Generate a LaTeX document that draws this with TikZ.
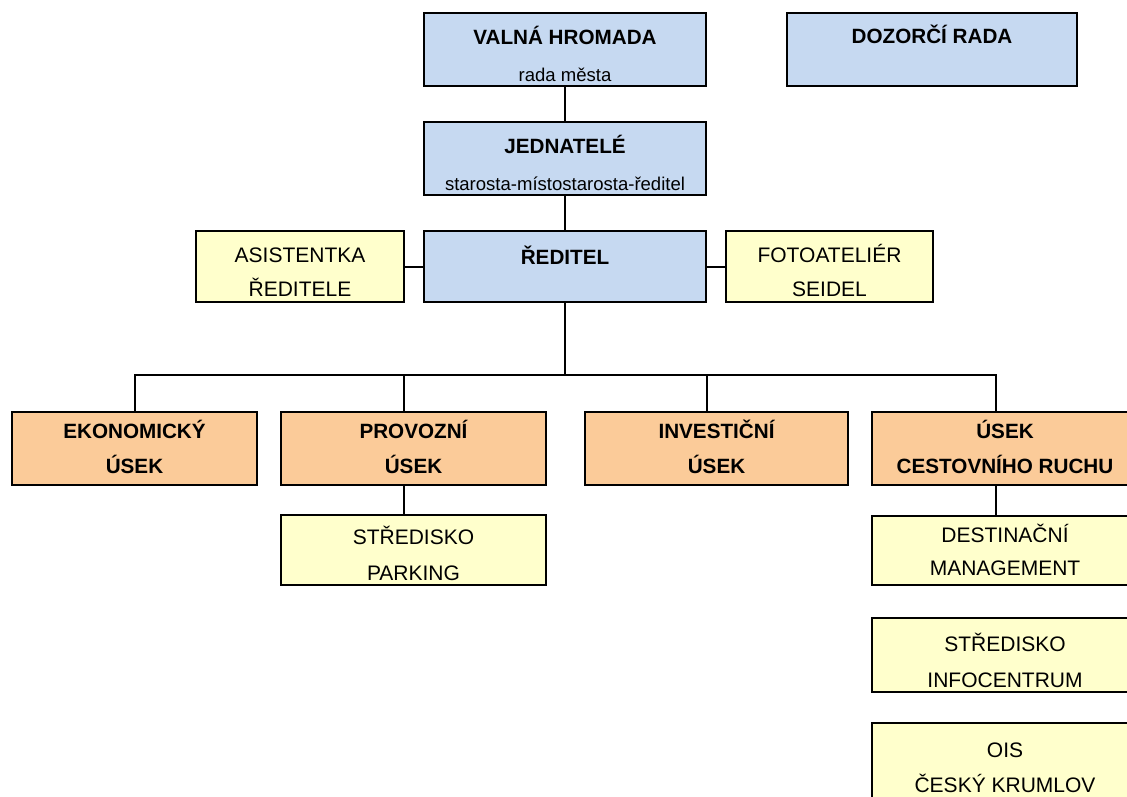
\documentclass[tikz,border=0pt]{standalone}
\usepackage{fontspec}
\setmainfont{Liberation Sans}
\definecolor{boardblue}{RGB}{198,217,241}
\definecolor{unitorange}{RGB}{251,203,153}
\definecolor{staffyellow}{RGB}{255,255,204}

\begin{document}
\begin{tikzpicture}[x=0.75pt,y=-0.75pt,inner sep=0pt,outer sep=0pt,
box/.style={draw,rectangle,line width=2pt},
blue box/.style={box,fill=boardblue,minimum width=211.5pt,minimum height=54.75pt},
orange box/.style={box,fill=unitorange,minimum height=54.75pt},
yellow box/.style={box,fill=staffyellow,minimum height=53.25pt},
hd/.style={font=\fontsize{15.5}{18}\selectfont\bfseries,anchor=base},
txt/.style={font=\fontsize{15.75}{18}\selectfont,anchor=base},
sub/.style={font=\fontsize{13.9}{16}\selectfont,anchor=base},
link/.style={line width=1.5pt}]

\useasboundingbox (0,0) rectangle (1127,796);
\clip (0,0) rectangle (1127,796);

% top of the chart
\node[blue box] (valna) at (565,49.5) {};
\node[blue box,minimum width=217.5pt] (dozor) at (932,49.5) {};
\node[blue box] (jedn) at (565,158.5) {};
\node[blue box,minimum height=53.25pt] (redi) at (565,266.5) {};
\node[yellow box,minimum width=156pt] (asist) at (300,266.5) {};
\node[yellow box,minimum width=155.25pt] (foto) at (829.5,266.5) {};

\node[hd] (valnaA) at ([yshift=-23.25pt]valna.north) {VALNÁ HROMADA};
\node[sub] (valnaB) at ([yshift=3.5pt]valna.south) {rada města};
\node[hd] (dozorA) at ([yshift=-23pt]dozor.north) {DOZORČÍ RADA};
\node[hd] (jednA) at ([yshift=-23.25pt]jedn.north) {JEDNATELÉ};
\node[sub] (jednB) at ([yshift=3.5pt]jedn.south) {starosta-místostarosta-ředitel};
\node[hd] (rediA) at ([yshift=-25pt]redi.north) {ŘEDITEL};
\node[txt] (asistA) at ([yshift=-23.5pt]asist.north) {ASISTENTKA};
\node[txt] (asistB) at ([yshift=-49.25pt]asist.north) {ŘEDITELE};
\node[txt] (fotoA) at ([yshift=-23.5pt]foto.north) {FOTOATELIÉR};
\node[txt] (fotoB) at ([yshift=-49.25pt]foto.north) {SEIDEL};

% departments
\node[orange box,minimum width=183.75pt] (ekon) at (134.5,448.5) {};
\node[orange box,minimum width=198.75pt] (prov) at (413.5,448.5) {};
\node[orange box,minimum width=197.25pt] (inv) at (716.5,448.5) {};
\node[orange box,minimum width=199.5pt] (usek) at (1005,448.5) {};

\node[hd] (ekonA) at ([yshift=-19.5pt]ekon.north) {EKONOMICKÝ};
\node[hd] (ekonB) at ([yshift=-45.75pt]ekon.north) {ÚSEK};
\node[hd] (provA) at ([yshift=-19.5pt]prov.north) {PROVOZNÍ};
\node[hd] (provB) at ([yshift=-45.75pt]prov.north) {ÚSEK};
\node[hd] (invA) at ([yshift=-19.5pt]inv.north) {INVESTIČNÍ};
\node[hd] (invB) at ([yshift=-45.75pt]inv.north) {ÚSEK};
\node[hd] (usekA) at ([yshift=-19.5pt]usek.north) {ÚSEK};
\node[hd] (usekB) at ([yshift=-45.75pt]usek.north) {CESTOVNÍHO RUCHU};

% sections below
\node[yellow box,minimum width=198.75pt,minimum height=52.5pt] (park) at (413.5,550) {};
\node[yellow box,minimum width=199.5pt,minimum height=51.75pt] (dest) at (1005,550.5) {};
\node[yellow box,minimum width=199.5pt,minimum height=55.5pt] (info) at (1005,655) {};
\node[yellow box,minimum width=199.5pt,minimum height=58.5pt] (ois) at (1005,762) {};

\node[txt] (parkA) at ([yshift=-21.75pt]park.north) {STŘEDISKO};
\node[txt] (parkB) at ([yshift=-48.75pt]park.north) {PARKING};
\node[txt] (destA) at ([yshift=-19.5pt]dest.north) {DESTINAČNÍ};
\node[txt] (destB) at ([yshift=-44.25pt]dest.north) {MANAGEMENT};
\node[txt] (infoA) at ([yshift=-24.75pt]info.north) {STŘEDISKO};
\node[txt] (infoB) at ([yshift=-51.75pt]info.north) {INFOCENTRUM};
\node[txt] (oisA) at ([yshift=-25.5pt]ois.north) {OIS};
\node[txt] (oisB) at ([yshift=-51.75pt]ois.north) {ČESKÝ KRUMLOV};

\coordinate (bus) at (565,375);

\draw[link] (valna.south) -- (jedn.north);
\draw[link] (jedn.south) -- (redi.north);
\draw[link] (asist.east) -- (redi.west);
\draw[link] (redi.east) -- (foto.west);
\draw[link] (redi.south) -- (bus);
\draw[link] (ekon.north) |- (bus) -| ([xshift=-6.75pt]usek.north);
\draw[link] ([xshift=-7.1pt]prov.north) -- ([xshift=-7.1pt]prov.north |- bus);
\draw[link] ([xshift=-7.1pt]inv.north) -- ([xshift=-7.1pt]inv.north |- bus);
\draw[link] ([xshift=-7.1pt]prov.south) -- ([xshift=-7.1pt]park.north);
\draw[link] ([xshift=-6.75pt]usek.south) -- ([xshift=-6.75pt]dest.north);
\end{tikzpicture}
\end{document}
